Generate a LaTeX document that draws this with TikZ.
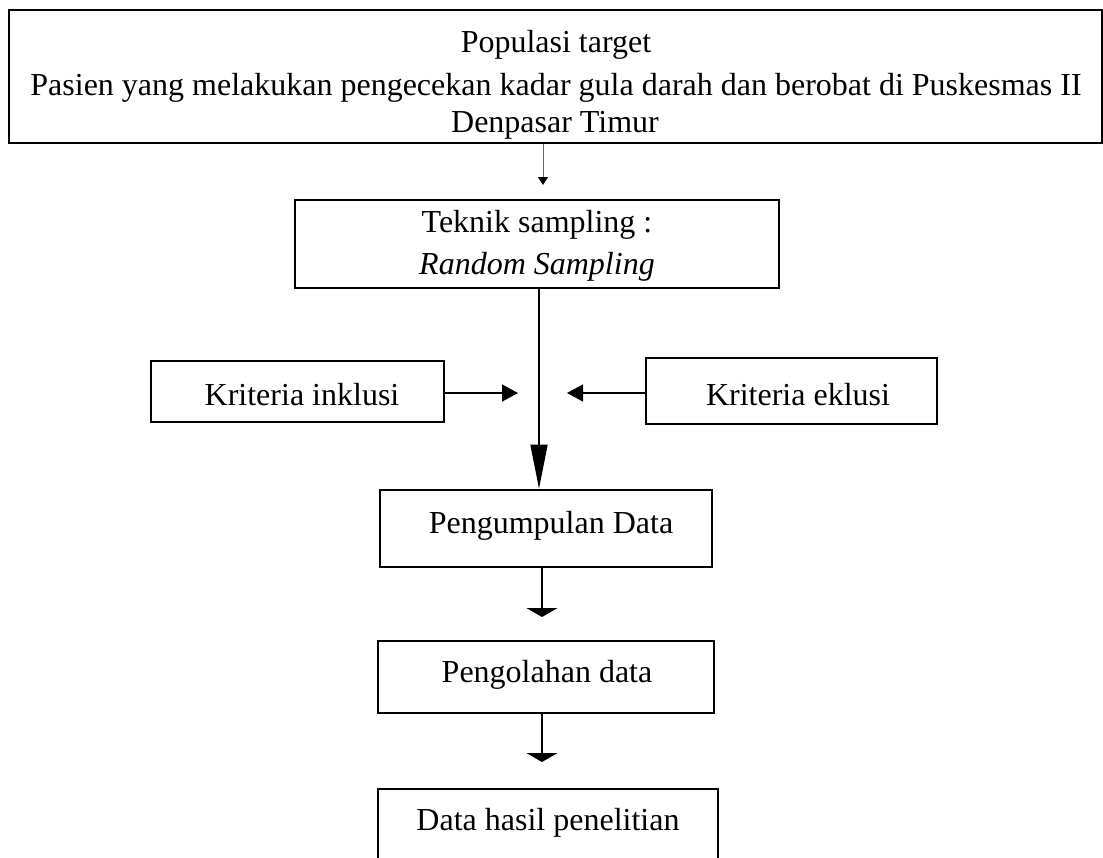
\documentclass[tikz,border=0pt]{standalone}
\usepackage{fontspec}
\setmainfont{Liberation Serif}
\usetikzlibrary{arrows.meta}
\begin{document}
\begin{tikzpicture}[x=1pt,y=-1pt,
  box/.style={draw, line width=2.6pt, inner sep=0pt},
  txt/.style={font=\fontsize{32}{38}\selectfont, anchor=base, inner sep=0pt},
  conn/.style={line width=1.5pt}]
\clip (0,0) rectangle (1103,857);
\fill[white] (0,0) rectangle (1103,857);
% boxes
\node[box, minimum width=1093pt, minimum height=133pt] (pop) at (555.5,76.5) {};
\node[box, minimum width=484pt, minimum height=88pt] (tek) at (537,244) {};
\node[box, minimum width=293pt, minimum height=61pt] (ink) at (297.5,391.5) {};
\node[box, minimum width=291pt, minimum height=66pt] (ekl) at (791.5,391) {};
\node[box, minimum width=332pt, minimum height=77pt] (pum) at (546,528.5) {};
\node[box, minimum width=336pt, minimum height=72pt] (olah) at (546,677) {};
\node[box, minimum width=340pt, minimum height=100pt] (hasil) at (548,839) {};
% texts
\node[txt] (pop1) at (556,52) {Populasi target};
\node[txt] (pop2) at (556,95) {Pasien yang melakukan pengecekan kadar gula darah dan berobat di Puskesmas II};
\node[txt] (pop3) at (555,132) {Denpasar Timur};
\node[txt] (tek1) at (537,232) {Teknik sampling :};
\node[txt] (tek2) at (537,274) {\itshape Random Sampling};
\node[txt] (ink1) at (302,405) {Kriteria inklusi};
\node[txt] (ekl1) at (798,405) {Kriteria eklusi};
\node[txt] (pum1) at (551,533) {Pengumpulan Data};
\node[txt] (olah1) at (547,682) {Pengolahan data};
\node[txt] (hasil1) at (548,830) {Data hasil penelitian};
% connector ends
\coordinate (a1) at (543,185);
\coordinate (c) at (539,0);
\coordinate (ti) at (518,393);
\coordinate (te) at (567,393);
\coordinate (c2) at (542,617);
\coordinate (c3) at (542,762);
% connectors
\draw[line width=1pt, black!60, -{Triangle[length=8pt,width=10pt,black]}] (pop.south -| a1) -- (a1);
\draw[conn, -{Triangle[length=44pt,width=17pt]}] (tek.south -| c) -- (pum.north -| c);
\draw[conn, -{Triangle[length=16pt,width=17pt]}] (ink.east |- ti) -- (ti);
\draw[conn, -{Triangle[length=16pt,width=17pt]}] (ekl.west |- te) -- (te);
\draw[conn, -{Triangle[length=9pt,width=31pt]}] (pum.south -| c2) -- (c2);
\draw[conn, -{Triangle[length=9pt,width=31pt]}] (olah.south -| c3) -- (c3);
\end{tikzpicture}
\end{document}
